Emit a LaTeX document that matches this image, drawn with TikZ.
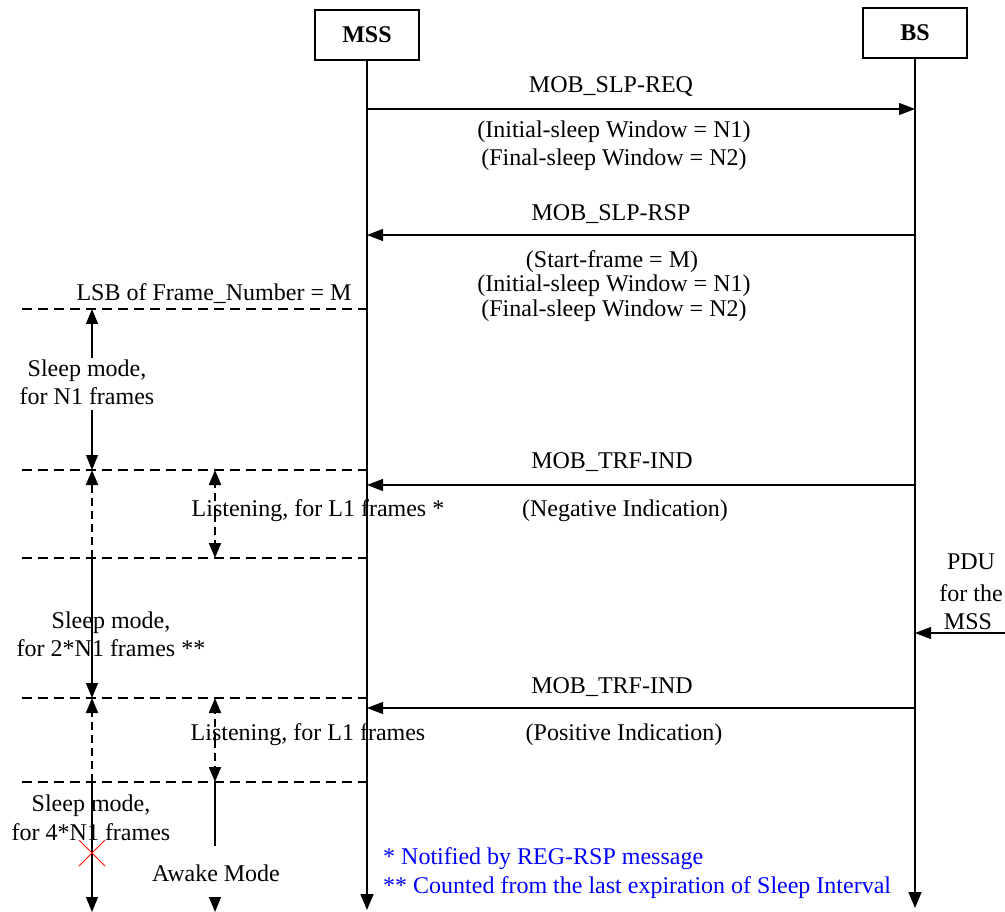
\documentclass[tikz,border=0pt]{standalone}
\usepackage{fontspec}
\setmainfont{Liberation Serif}
\usetikzlibrary{arrows.meta}
\begin{document}
\begin{tikzpicture}[x=1pt,y=-1pt,
  txt/.style={inner sep=0pt, anchor=base, font=\fontsize{24}{29}\selectfont},
  ltxt/.style={txt, anchor=base west},
  note/.style={ltxt, text=blue},
  actor/.style={draw, line width=1.2pt, minimum width=104pt, minimum height=50pt, inner sep=0pt, font=\fontsize{24}{29}\selectfont\bfseries},
  life/.style={draw=black!75, line width=1.5pt, -{Triangle[length=16pt,width=13pt]}, black},
  msg/.style={draw, line width=1.2pt, -{Triangle[length=16pt,width=12pt]}},
  sep/.style={draw, line width=2.2pt, dash pattern=on 10pt off 6pt},
  dur/.style={draw, line width=1.2pt, -{Triangle[length=15pt,width=12pt]}},
  durd/.style={draw, line width=2pt, dash pattern=on 8pt off 5pt, -{Triangle[length=15pt,width=12pt]}},
  ]
\useasboundingbox (0,0) rectangle (1005,912);

% actors
\node[actor] (mss) at (367,35) {MSS};
\node[actor] (bs) at (915,33) {BS};
\coordinate (mssEnd) at (367,910);
\coordinate (bsEnd) at (915,908);
\draw[life] (mss.south) -- (mssEnd);
\draw[life] (bs.south) -- (bsEnd);

% MOB_SLP-REQ
\coordinate (r1a) at (367,109);
\coordinate (r1b) at (915,109);
\draw[msg] (r1a) -- (r1b);
\node[txt] (reqL) at (611,93) {MOB\_SLP-REQ};
\node[txt] (reqP1) at (614,138) {(Initial-sleep Window = N1)};
\node[txt] (reqP2) at (614,166) {(Final-sleep Window = N2)};

% MOB_SLP-RSP
\coordinate (r2a) at (915,235);
\coordinate (r2b) at (367,235);
\draw[msg] (r2a) -- (r2b);
\node[txt] (rspL) at (611,221) {MOB\_SLP-RSP};
\node[txt] (rspP1) at (612,268) {(Start-frame = M)};
\node[txt] (rspP2) at (614,292) {(Initial-sleep Window = N1)};
\node[txt] (rspP3) at (614,317) {(Final-sleep Window = N2)};

% separators
\coordinate (s1a) at (22,309); \coordinate (s1b) at (367,309);
\coordinate (s2a) at (22,470); \coordinate (s2b) at (367,470);
\coordinate (s3a) at (22,558); \coordinate (s3b) at (367,558);
\coordinate (s4a) at (22,698); \coordinate (s4b) at (367,698);
\coordinate (s5a) at (22,782); \coordinate (s5b) at (367,782);
\draw[sep] (s1a) -- (s1b);
\draw[sep] (s2a) -- (s2b);
\draw[sep] (s3a) -- (s3b);
\draw[sep] (s4a) -- (s4b);
\draw[sep] (s5a) -- (s5b);
\node[txt] (lsb) at (214,301) {LSB of Frame\_Number = M};

% sleep N1
\coordinate (n1top) at (92,309);
\coordinate (n1bot) at (92,470);
\coordinate (n1mid) at (92,385);
\draw[dur] (n1mid) -- (n1top);
\draw[dur] (n1mid) -- (n1bot);
\node[fill=white, inner sep=0pt, minimum width=150pt, minimum height=52pt] (n1box) at (88,384) {};
\node[txt] (n1t1) at (87,377) {Sleep mode,};
\node[txt] (n1t2) at (87,404) {for N1 frames};

% MOB_TRF-IND 1
\coordinate (t1a) at (915,485);
\coordinate (t1b) at (367,485);
\draw[msg] (t1a) -- (t1b);
\node[txt] (trf1) at (612,468) {MOB\_TRF-IND};
\node[txt] (neg) at (625,516) {(Negative Indication)};

% listening 1
\coordinate (l1top) at (215,470);
\coordinate (l1bot) at (215,558);
\coordinate (l1mid) at (215,514);
\draw[durd] (l1mid) -- (l1top);
\draw[durd] (l1mid) -- (l1bot);
\node[txt] (lis1) at (318,516) {Listening, for L1 frames *};

% sleep 2N1
\coordinate (n2top) at (92,470);
\coordinate (n2sw) at (92,558);
\coordinate (n2bot) at (92,698);
\draw[durd] (n2sw) -- (n2top);
\draw[dur] (n2sw) -- (n2bot);
\node[txt] (n2t1) at (111,628) {Sleep mode,};
\node[txt] (n2t2) at (111,656) {for 2*N1 frames **};

% PDU
\coordinate (pdu) at (1005,633);
\coordinate (pduEnd) at (915,633);
\draw[msg] (pdu) -- (pduEnd);
\node[txt] (pdu1) at (971,569) {PDU};
\node[txt] (pdu2) at (971,601) {for the};
\node[txt] (pdu3) at (968,629) {MSS};

% MOB_TRF-IND 2
\coordinate (t2a) at (915,708);
\coordinate (t2b) at (367,708);
\draw[msg] (t2a) -- (t2b);
\node[txt] (trf2) at (612,693) {MOB\_TRF-IND};
\node[txt] (pos) at (624,740) {(Positive Indication)};

% listening 2
\coordinate (l2top) at (215,698);
\coordinate (l2bot) at (215,782);
\coordinate (l2mid) at (215,740);
\draw[durd] (l2mid) -- (l2top);
\draw[durd] (l2mid) -- (l2bot);
\node[txt] (lis2) at (308,740) {Listening, for L1 frames};

% sleep 4N1
\coordinate (n3top) at (92,698);
\coordinate (n3sw) at (92,782);
\coordinate (n3bot) at (92,912);
\draw[durd] (n3sw) -- (n3top);
\draw[dur] (n3sw) -- (n3bot);
\node[txt] (n3t1) at (91,811) {Sleep mode,};
\node[txt] (n3t2) at (91,840) {for 4*N1 frames};
\draw[red, line width=0.9pt] (79,840) -- (105,866) (79,866) -- (105,840);

% awake
\coordinate (awTop) at (215,782);
\coordinate (awLineEnd) at (215,846);
\coordinate (awArr) at (215,897);
\coordinate (awEnd) at (215,912);
\draw[line width=1.2pt] (awTop) -- (awLineEnd);
\draw[dur] (awArr) -- (awEnd);
\node[txt] (awake) at (216,881) {Awake Mode};

% notes
\node[note] (fn1) at (383,864) {* Notified by REG-RSP message};
\node[note] (fn2) at (383,893) {** Counted from the last expiration of Sleep Interval};
\end{tikzpicture}
\end{document}
